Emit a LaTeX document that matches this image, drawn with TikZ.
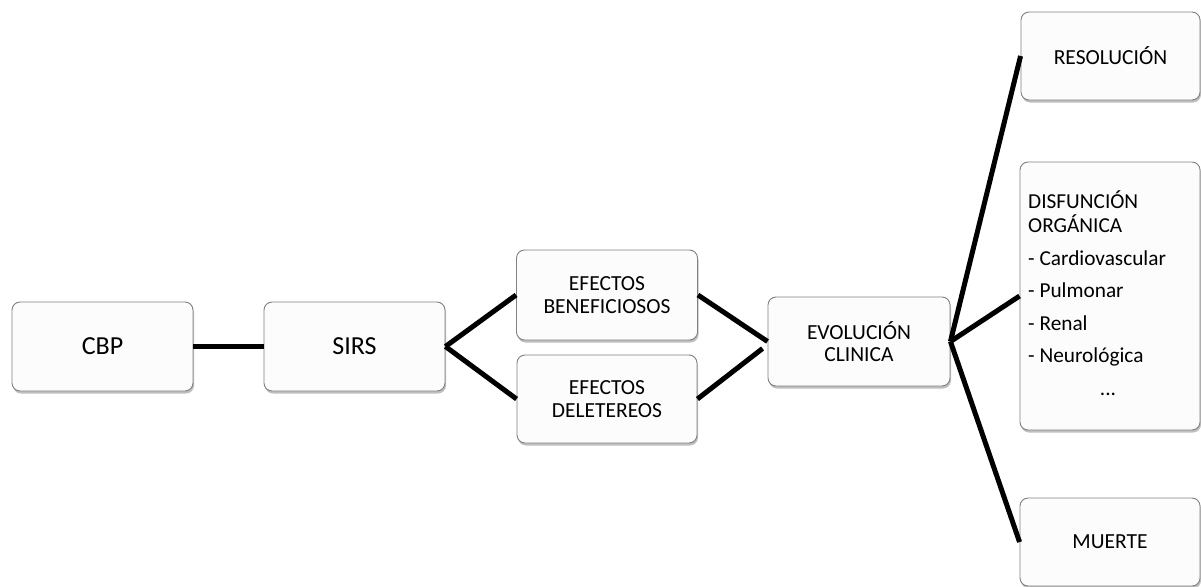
\documentclass[tikz,border=0pt]{standalone}
\usepackage{fontspec}
\setmainfont{Carlito}
\usetikzlibrary{shadows}
\begin{document}
\begin{tikzpicture}[x=1pt,y=-1pt,
  box/.style={draw=black!50, line width=0.9pt, fill=white!99!black, rounded corners=8pt,
    drop shadow={shadow xshift=1pt, shadow yshift=-2.5pt, fill=black, opacity=0.25},
    align=center, inner sep=0pt, font=\fontsize{21.5}{22.5}\selectfont},
  bigtext/.style={font=\fontsize{26}{30}\selectfont},
  item/.style={anchor=base west, inner sep=0pt, font=\fontsize{21.3}{24}\selectfont},
  link/.style={line width=5pt, draw=black}]
\useasboundingbox (0,0) rectangle (1201,586);
\node[box, bigtext, minimum width=181pt, minimum height=89pt] (cbp) at (102.5,346.5) {CBP};
\node[box, bigtext, minimum width=181pt, minimum height=89pt] (sirs) at (354.5,346.5) {SIRS};
\node[box, minimum width=181pt, minimum height=90pt] (benef) at (607,295) {EFECTOS\\BENEFICIOSOS};
\node[box, minimum width=180pt, minimum height=88pt] (delet) at (607,399) {EFECTOS\\DELETEREOS};
\node[box, minimum width=182pt, minimum height=89pt] (evol) at (859,341.5) {EVOLUCIÓN\\CLINICA};
\node[box, minimum width=179pt, minimum height=88pt] (resol) at (1110.5,56) {RESOLUCIÓN};
\node[box, minimum width=180pt, minimum height=268pt] (disf) at (1110,296) {};
\node[box, minimum width=180pt, minimum height=88pt] (muerte) at (1110,542) {MUERTE};
% list inside the organ dysfunction box
\node[item] (l1) at (1028,208) {DISFUNCIÓN};
\node[item] (l2) at (1028,232) {ORGÁNICA};
\node[item] (l3) at (1028,265) {- Cardiovascular};
\node[item] (l4) at (1028,297) {- Pulmonar};
\node[item] (l5) at (1028,330) {- Renal};
\node[item] (l6) at (1028,362) {- Neurológica};
\node[item, anchor=base] (dots) at (1108,395) {...};
% connectors
\draw[link] (cbp.east) -- (sirs.west);
\draw[link] (sirs.east) -- (benef.west);
\draw[link] (sirs.east) -- (delet.west);
\draw[link] (benef.east) -- (evol.west);
\draw[link] (delet.east) -- ([xshift=-5pt,yshift=-7pt]evol.west);
\draw[link] (evol.east) -- (resol.west);
\draw[link] (evol.east) -- (disf.west);
\draw[link] (evol.east) -- (muerte.west);
\end{tikzpicture}
\end{document}
